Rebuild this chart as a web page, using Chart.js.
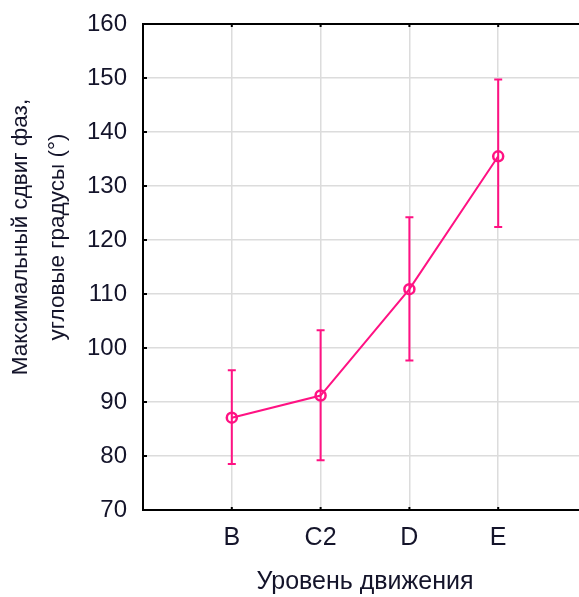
<!DOCTYPE html>
<html lang="ru">
<head>
  <meta charset="UTF-8" />
  <title>Максимальный сдвиг фаз</title>
  <script src="https://cdn.jsdelivr.net/npm/chart.js"></script>
  <style>
    html, body {
      margin: 0;
      padding: 0;
      background: #fff;
      overflow: hidden;
    }
    .wrap {
      width: 600px;
      height: 597px;
    }
  </style>
</head>
<body>
  <div class="wrap"><canvas id="chart"></canvas></div>

  <script>
    const labels = ['B', 'C2', 'D', 'E'];
    const means = [87.1, 91.2, 110.9, 135.5];
    const lower = [78.5, 79.2, 97.7, 122.4];
    const upper = [95.9, 103.3, 124.2, 149.7];
    const yTitle = ['Максимальный сдвиг фаз,', 'угловые градусы (°)'];
    const xTitle = 'Уровень движения';

    const pink = '#ff1283';
    const ink = '#14142a';
    const font = 'Arial, "Liberation Sans", sans-serif';

    // error bars, inner tick marks, frame and the y title
    const extras = {
      id: 'extras',
      afterDatasetsDraw(chart) {
        const { ctx, chartArea: a, scales: { x, y } } = chart;
        ctx.save();
        ctx.strokeStyle = pink;
        ctx.lineWidth = 2;
        means.forEach((m, i) => {
          const px = x.getPixelForValue(i + 1);
          const top = y.getPixelForValue(upper[i]);
          const bot = y.getPixelForValue(lower[i]);
          ctx.beginPath();
          ctx.moveTo(px, top); ctx.lineTo(px, bot);
          ctx.moveTo(px - 4, top); ctx.lineTo(px + 4, top);
          ctx.moveTo(px - 4, bot); ctx.lineTo(px + 4, bot);
          ctx.stroke();
        });

        ctx.strokeStyle = '#000';
        ctx.lineWidth = 2;
        ctx.strokeRect(a.left, a.top, a.right - a.left, a.bottom - a.top);
        ctx.beginPath();
        y.ticks.forEach(t => {
          const py = y.getPixelForValue(t.value);
          ctx.moveTo(a.left, py); ctx.lineTo(a.left + 4, py);
        });
        labels.forEach((l, i) => {
          const px = x.getPixelForValue(i + 1);
          ctx.moveTo(px, a.top); ctx.lineTo(px, a.top + 3);
          ctx.moveTo(px, a.bottom); ctx.lineTo(px, a.bottom - 3);
        });
        ctx.stroke();

        ctx.fillStyle = ink;
        ctx.font = '22.5px ' + font;
        ctx.textAlign = 'center';
        ctx.textBaseline = 'middle';
        ctx.translate(0, 237);
        ctx.rotate(-Math.PI / 2);
        ctx.fillText(yTitle[0], 0, 21);
        ctx.fillText(yTitle[1], 0, 58);
        ctx.restore();
      }
    };

    new Chart(document.getElementById('chart'), {
      type: 'line',
      data: {
        datasets: [{
          data: means.map((v, i) => ({ x: i + 1, y: v })),
          borderColor: pink,
          borderWidth: 2,
          pointRadius: 5,
          pointBorderWidth: 2.5,
          pointBorderColor: pink,
          pointBackgroundColor: 'rgba(0,0,0,0)',
          tension: 0
        }]
      },
      options: {
        responsive: true,
        maintainAspectRatio: false,
        animation: false,
        layout: { padding: { top: 24, right: 13, left: 0, bottom: 0 } },
        plugins: {
          legend: { display: false },
          tooltip: { enabled: false }
        },
        scales: {
          x: {
            type: 'linear',
            min: 0,
            max: 5,
            afterFit(s) { s.height = 87; },
            afterBuildTicks(s) { s.ticks = [0, 1, 2, 3, 4, 5].map(v => ({ value: v })); },
            ticks: {
              padding: 13,
              color: ink,
              font: { family: font, size: 25 },
              callback: v => labels[v - 1] || ''
            },
            grid: { color: '#dcdcdc', lineWidth: 1.5, drawTicks: false },
            border: { display: false },
            title: {
              display: true,
              text: xTitle,
              color: ink,
              font: { family: font, size: 25 },
              padding: { top: 8, bottom: 0 }
            }
          },
          y: {
            min: 70,
            max: 160,
            afterFit(s) {
              s.width = 143;
              s.paddingTop = 0;
              s.paddingBottom = 0;
            },
            ticks: {
              stepSize: 10,
              padding: 16,
              color: ink,
              font: { family: font, size: 24 }
            },
            grid: { color: '#dcdcdc', lineWidth: 1.5, drawTicks: false },
            border: { display: false }
          }
        }
      },
      plugins: [extras]
    });
  </script>
</body>
</html>
